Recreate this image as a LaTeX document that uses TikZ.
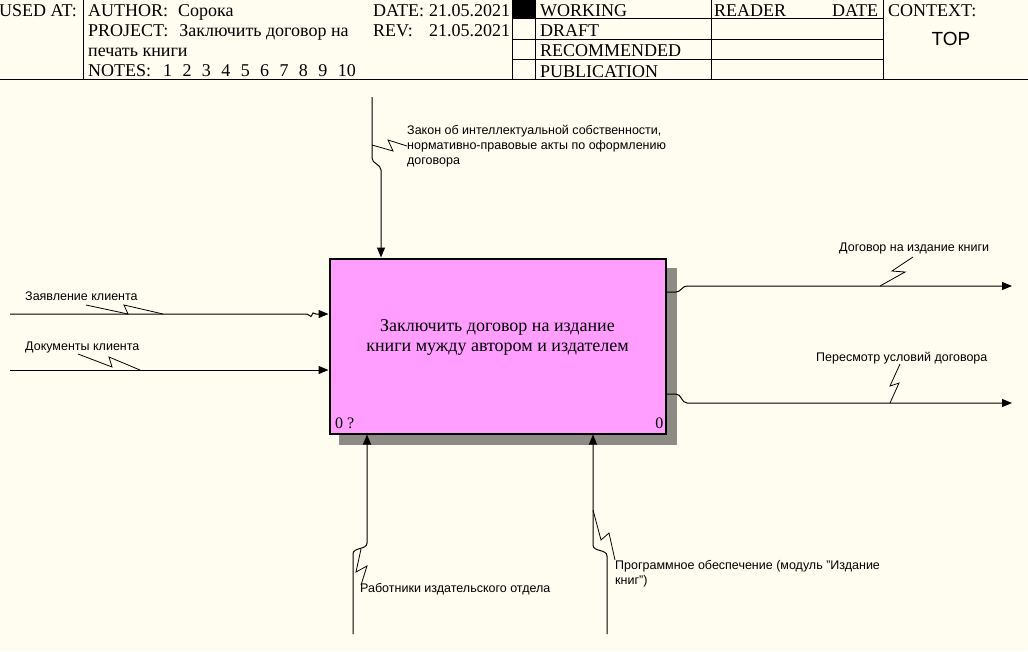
\documentclass[tikz,border=0pt]{standalone}
\usepackage{fontspec}
\setmainfont{Liberation Serif}
\setsansfont{Liberation Sans}
\usepackage{tikz}
\usetikzlibrary{arrows.meta}
\definecolor{paperc}{HTML}{FFFCF0}
\definecolor{actfillc}{HTML}{FF9EFF}
\colorlet{shadowc}{black!45!paperc}
\tikzstyle{hdrtext} = [
    anchor=base west,
    inner sep=0pt,
    font=\fontsize{18}{20}\selectfont
    ]
\tikzstyle{hdrline} = [line width=1pt]
\tikzstyle{actbox} = [
    draw,
    line width=2pt,
    fill=actfillc,
    minimum width=336pt,
    minimum height=175pt,
    inner sep=0pt
    ]
\tikzstyle{acttext} = [
    align=center,
    inner sep=0pt,
    font=\fontsize{18}{20}\selectfont
    ]
\tikzstyle{arrowline} = [line width=1pt, -{Triangle[length=10pt,width=8pt]}]
\tikzstyle{squig} = [line width=0.8pt]
\tikzstyle{arrowlabel} = [
    align=left,
    inner sep=0pt,
    font=\sffamily\fontsize{12.5}{15}\selectfont
    ]
\newcommand{\notegap}{\hspace{10.4pt}}

\begin{document}
\begin{tikzpicture}[x=1pt,y=-1pt]
\fill[paperc] (0,0) rectangle (1028,651);
\useasboundingbox (0,0) rectangle (1028,651);

\draw[hdrline] (83,0) -- (83,79);
\draw[hdrline] (512,0) -- (512,79);
\draw[hdrline] (535,0) -- (535,79);
\draw[hdrline] (711,0) -- (711,79);
\draw[hdrline] (883,0) -- (883,79);
\draw[hdrline] (0,79) -- (1028,79);
\foreach \y in {18.5,39,59.5}
    \draw[hdrline] (512,\y) -- (883,\y);
\fill (512,0) rectangle (535,18.5);

\node[hdrtext] (usedat) at (-1,16) {USED AT:};
\node[hdrtext] (author) at (88,16) {AUTHOR:\hspace{10pt}Сорока};
\node[hdrtext] (project) at (88,36) {PROJECT:\hspace{11pt}Заключить договор на};
\node[hdrtext] (project2) at (88,56) {печать книги};
\node[hdrtext] (notes) at (88,76) {NOTES:\hspace{12pt}1\notegap2\notegap3\notegap4\notegap5\notegap6\notegap7\notegap8\notegap9\notegap10};
\node[hdrtext, text width=137pt] (date) at (373,16) {DATE:\hfill21.05.2021};
\node[hdrtext, text width=137pt] (rev) at (373,36) {REV:\hfill21.05.2021};
\node[hdrtext] (working) at (540,16) {WORKING};
\node[hdrtext] (draft) at (540,36) {DRAFT};
\node[hdrtext] (recommended) at (540,56) {RECOMMENDED};
\node[hdrtext] (publication) at (540,77) {PUBLICATION};
\node[hdrtext, text width=164pt] (reader) at (714,16) {READER\hfill DATE};
\node[hdrtext] (context) at (888,16) {CONTEXT:};
\node[inner sep=0pt, font=\sffamily\fontsize{19}{20}\selectfont] (top) at (951,39) {TOP};

\node[actbox] (act) at (497.5,346) {};
\fill[shadowc] ([yshift=-10pt]act.north east) rectangle ([xshift=10pt,yshift=-10pt]act.south east);
\fill[shadowc] ([xshift=10pt]act.south west) rectangle ([xshift=10pt,yshift=-10pt]act.south east);
\node[acttext] (actlabel) at ([yshift=9pt]act.center) {Заключить договор на издание\\книги мужду автором и издателем};
\node[hdrtext, font=\fontsize{16}{18}\selectfont] (actno) at ([xshift=6.5pt,yshift=6pt]act.south west) {0 ?};
\node[hdrtext, anchor=base east, font=\fontsize{16}{18}\selectfont] (actref) at ([xshift=-3pt,yshift=6pt]act.south east) {0};

\coordinate (ctrlstart) at (372,97);
\coordinate (ctrljog) at (381,170);
\coordinate (in1start) at (10,314);
\coordinate (in2start) at (10,370);
\coordinate (out1start) at (667,292);
\coordinate (out1end) at (1012,286);
\coordinate (out2start) at (667,394);
\coordinate (out2end) at (1012,403);
\coordinate (mech1start) at (353,634);
\coordinate (mech1jog) at (367,543);
\coordinate (mech2start) at (607,634);
\coordinate (mech2jog) at (593,545);

\draw[arrowline] (ctrlstart) -- (372,158) to[out=-90,in=90] (ctrljog) -- (act.north -| ctrljog);
\draw[arrowline] (in1start) -- (307,314) -- (311,316.5) -- (313,313) -- (316,314) -- (act.west |- in1start);
\draw[arrowline] (in2start) -- (act.west |- in2start);
\draw[arrowline] (act.east |- out1start) -- (676,292) to[out=0,in=180] (687,286) -- (out1end);
\draw[arrowline] (act.east |- out2start) -- (676,394) to[out=0,in=180] (687,403) -- (out2end);
\draw[arrowline] (mech1start) -- (353,554) to[out=90,in=-90] (mech1jog) -- (act.south -| mech1jog);
\draw[arrowline] (mech2start) -- (607,556) to[out=90,in=-90] (mech2jog) -- (act.south -| mech2jog);

\node[arrowlabel, anchor=north west] (ctrllabel) at (407,125) {Закон об интеллектуальной собственности,\\нормативно-правовые акты по оформлению\\договора};
\node[arrowlabel, anchor=base west] (in1label) at (25,300) {Заявление клиента};
\node[arrowlabel, anchor=base west] (in2label) at (25,350) {Документы клиента};
\node[arrowlabel, anchor=base west] (out1label) at (839,251) {Договор на издание книги};
\node[arrowlabel, anchor=base west] (out2label) at (816,361) {Пересмотр условий договора};
\node[arrowlabel, anchor=base west] (mech1label) at (360,592) {Работники издательского отдела};
\node[arrowlabel, anchor=north west] (mech2label) at (615,560) {Программное обеспечение (модуль "Издание\\книг")};

\draw[squig] (ctrllabel.west |- 0,146) -- (388,140) -- (393,151) -- (372,145);
\draw[squig] (86,305) -- (128,314) -- (124,305) -- (163,314);
\draw[squig] (78,354) -- (112,367) -- (109,357) -- (140,370);
\draw[squig] (913,257) -- (892,271) -- (905,272) -- (880,286);
\draw[squig] (900,364) -- (890,386) -- (899,383) -- (890,403);
\draw[squig] (361,585) -- (367,566) -- (356,572) -- (361,549);
\draw[squig] (mech2label.north west) -- (609,533) -- (601,540) -- (593,510);
\end{tikzpicture}
\end{document}
